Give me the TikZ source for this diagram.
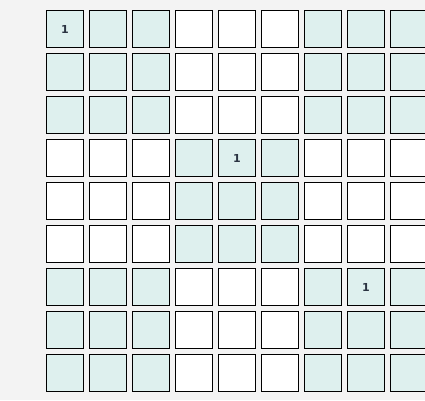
\documentclass[tikz,border=0pt]{standalone}
\usepackage{fontspec}
\setmainfont{DejaVu Sans}
\definecolor{bg}{HTML}{F3F3F3}
\definecolor{shade}{HTML}{DEF0EE}
\definecolor{numc}{HTML}{2B3442}
\tikzset{
  cell/.style={draw=black, line width=1.4pt, minimum size=37pt, inner sep=0pt, outer sep=0pt, fill=white},
  shaded/.style={cell, fill=shade},
  num/.style={font=\bfseries\fontsize{11}{11}\selectfont, text=numc}
}
\begin{document}
\begin{tikzpicture}[x=1pt,y=-1pt]
\useasboundingbox (0,0) rectangle (425,400);
\fill[bg] (0,0) rectangle (425,400);
\clip (0,0) rectangle (425,400);
\foreach \r in {0,...,8}{
  \foreach \c in {0,...,8}{
    \pgfmathtruncatemacro{\br}{int(\r/3)}
    \pgfmathtruncatemacro{\bc}{int(\c/3)}
    \pgfmathtruncatemacro{\s}{mod(\br+\bc,2)==0 ? 1 : 0}
    \ifnum\s=1
      \node[shaded] (c-\r-\c) at ({65+43*\c},{29+43*\r}) {};
    \else
      \node[cell] (c-\r-\c) at ({65+43*\c},{29+43*\r}) {};
    \fi
  }
}
\node[num] (n1) at (c-0-0) {1};
\node[num] (n2) at (c-3-4) {1};
\node[num] (n3) at (c-6-7) {1};
\end{tikzpicture}
\end{document}
